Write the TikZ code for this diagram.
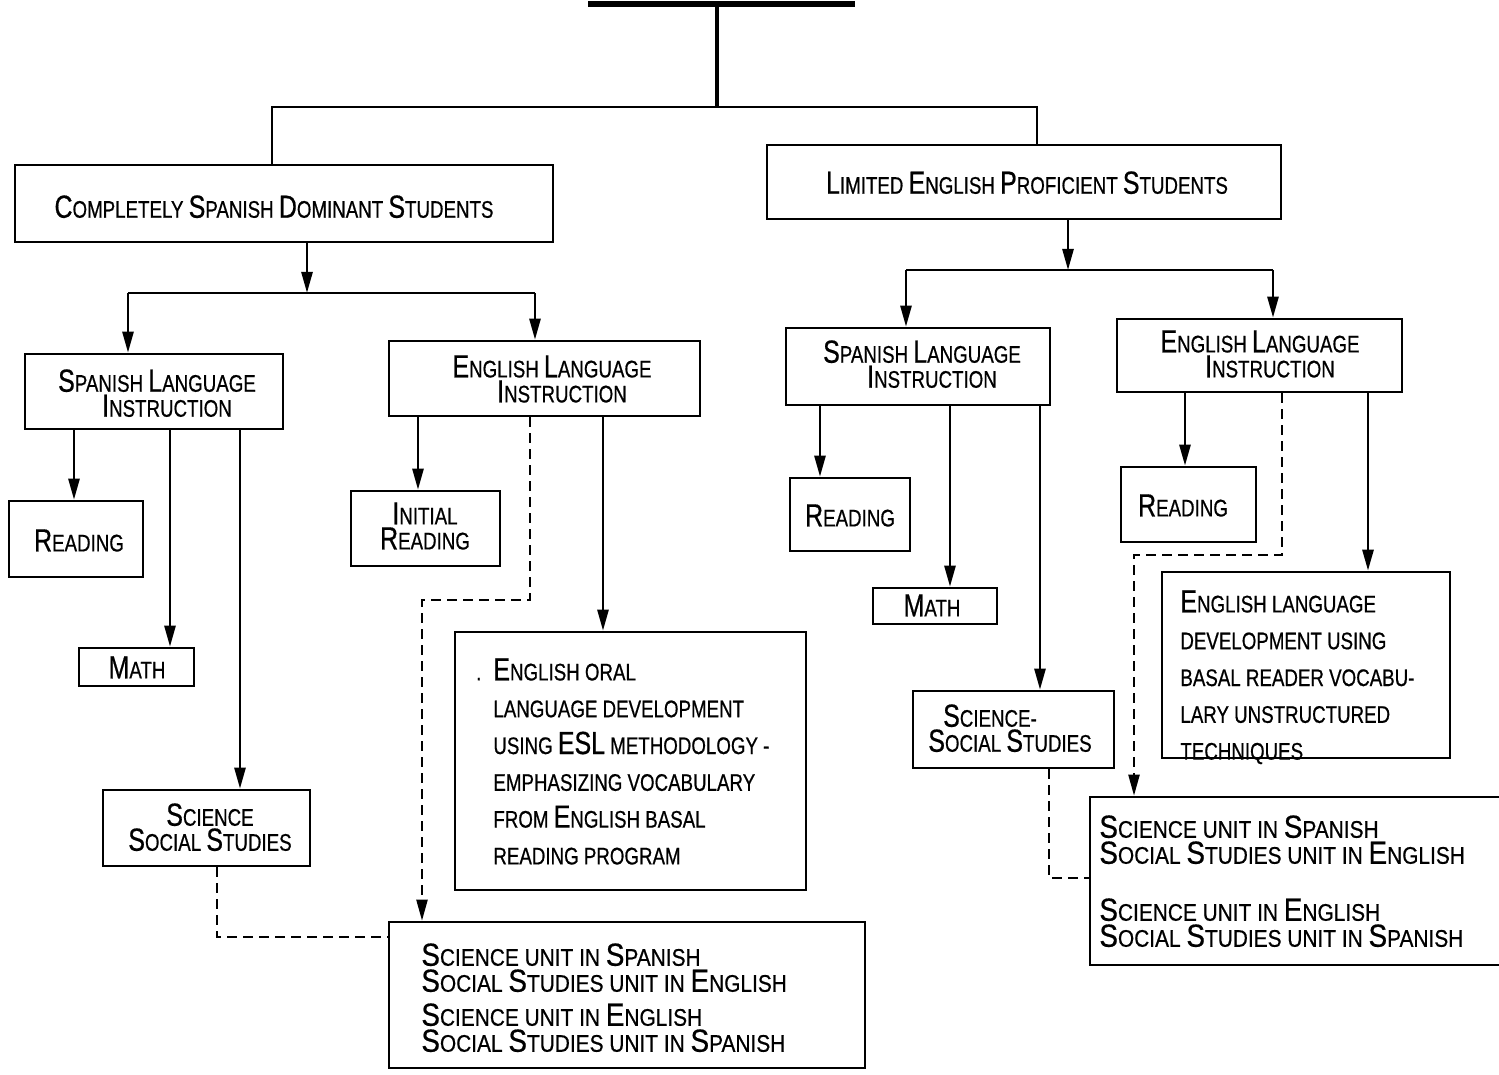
\documentclass[tikz,border=0pt]{standalone}
\usepackage{fontspec}
\setmainfont{Liberation Sans}[FakeStretch=0.78,FakeBold=0.6]
\newfontfamily\widefam{Liberation Sans}[FakeStretch=0.87,FakeBold=0.6]
\usetikzlibrary{arrows.meta,fit}
\lineskiplimit=-50pt
\newcommand\K[1]{{\fontsize{16}{12.5}\selectfont #1}}
\tikzset{
  box/.style={draw, line width=1.3pt, inner sep=0pt},
  lbl/.style={inner sep=0pt, align=center, anchor=north,
    font=\fontsize{12}{12.5}\selectfont},
  para/.style={inner sep=0pt, align=left, anchor=north west,
    font=\fontsize{12}{18.4}\selectfont},
  units/.style={inner sep=0pt, align=left, anchor=north west,
    font=\widefam\fontsize{12}{13}\selectfont},
  conn/.style={line width=1.3pt},
  arr/.style={conn, -{Triangle[length=10.5pt,width=5.5pt]}},
  dsh/.style={line width=1.1pt, dash pattern=on 5pt off 3pt},
  darr/.style={dsh, -{Triangle[length=10.5pt,width=5.5pt]}},
}
\begin{document}
\begin{tikzpicture}[x=0.5pt,y=-0.5pt]
\useasboundingbox (0,0) rectangle (1499,1075);
\fill[white] (0,0) rectangle (1499,1075);
\clip (0,0) rectangle (1499,1075);

% top
\coordinate (topL) at (588,4);
\coordinate (topR) at (855,4);
\coordinate (topJ) at (717,4);
\draw[line width=2.6pt] (topL) -- (topR);

% headers
\node[box,fit={(15,165)(553,242)}] (csd) {};
\node[lbl] (csdT) at (274,195) {\K{C}OMPLETELY \K{S}PANISH \K{D}OMINANT \K{S}TUDENTS};
\node[box,fit={(767,145)(1281,219)}] (lep) {};
\node[lbl] (lepT) at (1027,171) {\K{L}IMITED \K{E}NGLISH \K{P}ROFICIENT \K{S}TUDENTS};

\draw[line width=1.6pt] (topJ) -- (717,107);
\draw[conn] (272,0 |- csd.north) -- (272,107) -- (1037,107) -- (1037,0 |- lep.north);

% left branch
\node[box,fit={(25,354)(283,429)}] (sliL) {};
\node[lbl] (sliLT) at (157,369) {\K{S}PANISH \K{L}ANGUAGE\\\hspace*{10pt}\K{I}NSTRUCTION};
\node[box,fit={(389,341)(700,416)}] (eliL) {};
\node[lbl] (eliLT) at (552,355) {\K{E}NGLISH \K{L}ANGUAGE\\\hspace*{10pt}\K{I}NSTRUCTION};
\node[box,fit={(9,501)(143,577)}] (rdL) {};
\node[lbl] (rdLT) at (79,529) {\K{R}EADING};
\node[box,fit={(79,648)(194,686)}] (mathL) {};
\node[lbl] (mathLT) at (137,656) {\K{M}ATH};
\node[box,fit={(103,790)(310,866)}] (sssL) {};
\node[lbl] (sssLT) at (210,803) {\K{S}CIENCE\\\K{S}OCIAL \K{S}TUDIES};
\node[box,fit={(351,491)(500,566)}] (irL) {};
\node[lbl] (irLT) at (425,502) {\K{I}NITIAL\\\K{R}EADING};
\node[box,fit={(455,632)(806,890)}] (oral) {};
\node[para] (oralT) at (493,658) {\llap{.\hspace{6pt}}\K{E}NGLISH ORAL\\
LANGUAGE DEVELOPMENT\\
USING \K{ESL} METHODOLOGY -\\
EMPHASIZING VOCABULARY\\
FROM \K{E}NGLISH BASAL\\
READING PROGRAM};
\node[box,fit={(389,922)(865,1068)}] (unitsL) {};
\node[units] (unitsLT) at (421,943) {\K{S}CIENCE UNIT IN \K{S}PANISH\\
\K{S}OCIAL \K{S}TUDIES UNIT IN \K{E}NGLISH\\[4pt]
\K{S}CIENCE UNIT IN \K{E}NGLISH\\
\K{S}OCIAL \K{S}TUDIES UNIT IN \K{S}PANISH};

\draw[arr] (307,0 |- csd.south) -- (307,293);
\draw[conn] (128,293) -- (535,293);
\draw[arr] (128,293) -- (128,0 |- sliL.north);
\draw[arr] (535,293) -- (535,0 |- eliL.north);
\draw[arr] (74,0 |- sliL.south) -- (74,0 |- rdL.north);
\draw[arr] (170,0 |- sliL.south) -- (170,0 |- mathL.north);
\draw[arr] (240,0 |- sliL.south) -- (240,0 |- sssL.north);
\draw[arr] (418,0 |- eliL.south) -- (418,0 |- irL.north);
\draw[arr] (603,0 |- eliL.south) -- (603,0 |- oral.north);
\draw[darr] (530,0 |- eliL.south) -- (530,600) -- (422,600) -- (422,0 |- unitsL.north);
\draw[dsh] (217,0 |- sssL.south) -- (217,937) -- (unitsL.west |- 0,937);

% right branch
\node[box,fit={(786,328)(1050,405)}] (sliR) {};
\node[lbl] (sliRT) at (922,340) {\K{S}PANISH \K{L}ANGUAGE\\\hspace*{10pt}\K{I}NSTRUCTION};
\node[box,fit={(1117,319)(1402,392)}] (eliR) {};
\node[lbl] (eliRT) at (1260,330) {\K{E}NGLISH \K{L}ANGUAGE\\\hspace*{10pt}\K{I}NSTRUCTION};
\node[box,fit={(790,478)(910,551)}] (rdR) {};
\node[lbl] (rdRT) at (850,504) {\K{R}EADING};
\node[box,fit={(873,588)(997,624)}] (mathR) {};
\node[lbl] (mathRT) at (932,594) {\K{M}ATH};
\node[box,fit={(913,691)(1114,768)}] (sssR) {};
\node[lbl] (sssRT) at (1010,704) {\hspace*{-20pt}\K{S}CIENCE-\\\K{S}OCIAL \K{S}TUDIES};
\node[box,fit={(1121,467)(1256,542)}] (rdR2) {};
\node[lbl] (rdR2T) at (1183,494) {\K{R}EADING};
\node[box,fit={(1162,572)(1450,758)}] (eld) {};
\node[para] (eldT) at (1180,590) {\K{E}NGLISH LANGUAGE\\
DEVELOPMENT USING\\
BASAL READER VOCABU-\\
LARY UNSTRUCTURED\\
TECHNIQUES};
\node[box,fit={(1090,797)(1515,965)}] (unitsR) {};
\node[units] (unitsRT) at (1099,815) {\K{S}CIENCE UNIT IN \K{S}PANISH\\
\K{S}OCIAL \K{S}TUDIES UNIT IN \K{E}NGLISH\\[15.5pt]
\K{S}CIENCE UNIT IN \K{E}NGLISH\\
\K{S}OCIAL \K{S}TUDIES UNIT IN \K{S}PANISH};

\draw[arr] (1068,0 |- lep.south) -- (1068,270);
\draw[conn] (906,270) -- (1273,270);
\draw[arr] (906,270) -- (906,0 |- sliR.north);
\draw[arr] (1273,270) -- (1273,0 |- eliR.north);
\draw[arr] (820,0 |- sliR.south) -- (820,0 |- rdR.north);
\draw[arr] (950,0 |- sliR.south) -- (950,0 |- mathR.north);
\draw[arr] (1040,0 |- sliR.south) -- (1040,0 |- sssR.north);
\draw[arr] (1185,0 |- eliR.south) -- (1185,0 |- rdR2.north);
\draw[arr] (1368,0 |- eliR.south) -- (1368,0 |- eld.north);
\draw[darr] (1282,0 |- eliR.south) -- (1282,555) -- (1134,555) -- (1134,0 |- unitsR.north);
\draw[dsh] (1049,0 |- sssR.south) -- (1049,878) -- (unitsR.west |- 0,878);
\end{tikzpicture}
\end{document}
